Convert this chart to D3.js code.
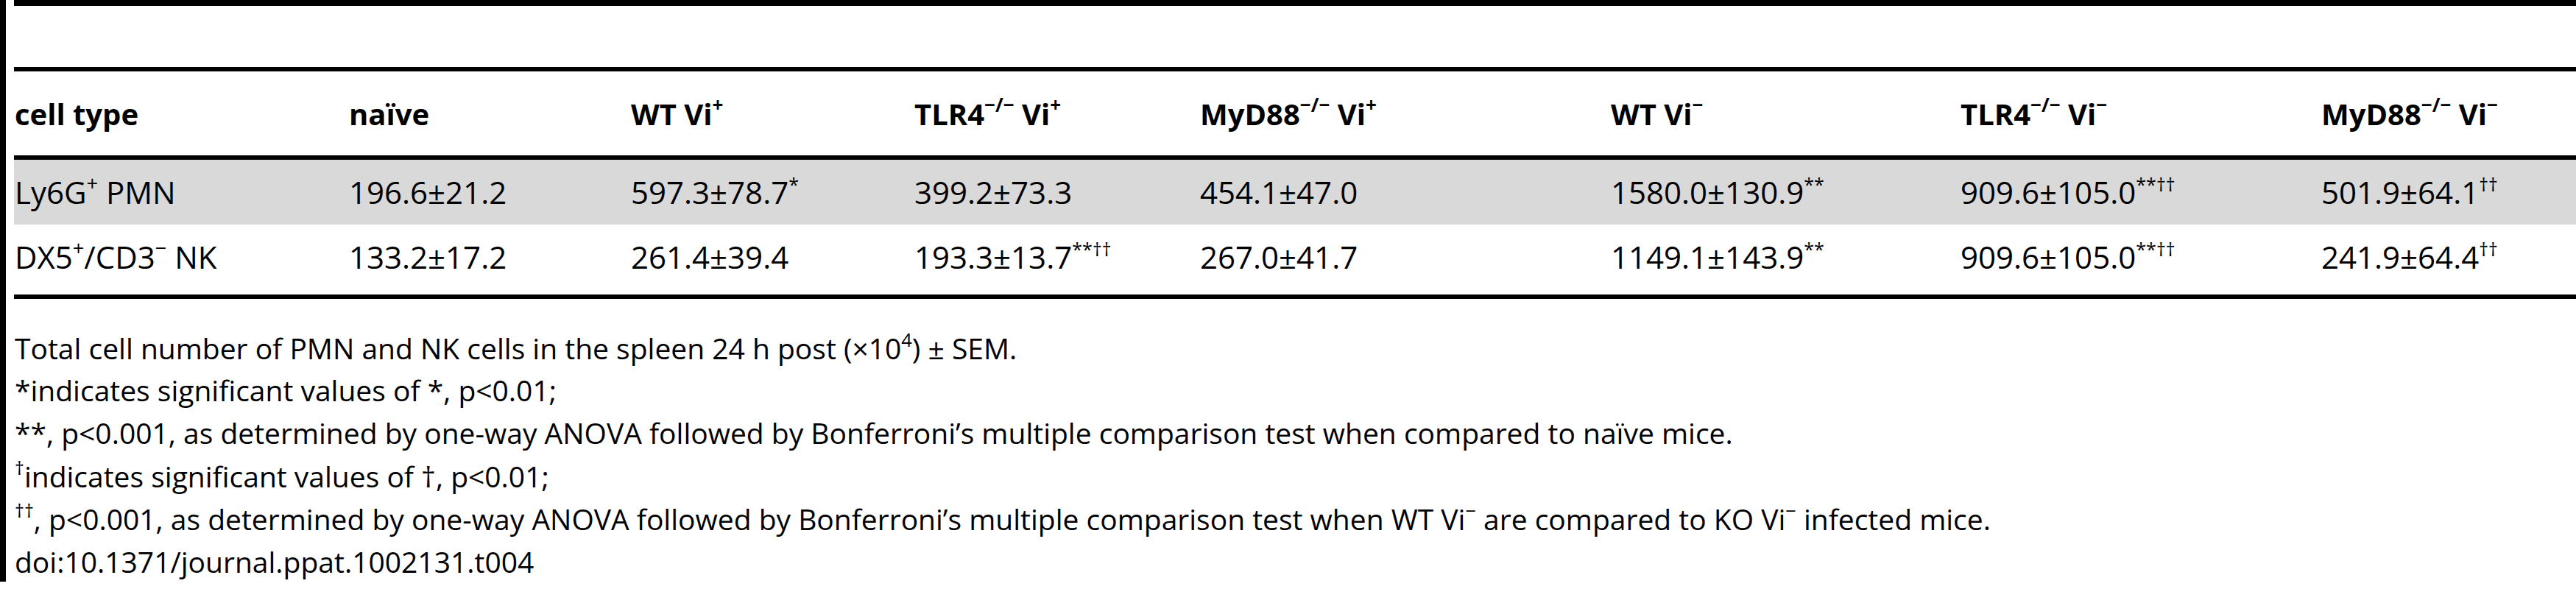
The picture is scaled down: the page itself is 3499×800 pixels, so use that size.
<!DOCTYPE html>
<html><head><meta charset="utf-8">
<script src="https://cdn.jsdelivr.net/npm/d3@7"></script>
<style>body{margin:0;background:#fff}svg{display:block}</style>
</head><body>
<script>
// ---- data ----
const headerParts = [
  [["cell type",""]],
  [["naïve",""]],
  [["WT Vi","+"]],
  [["TLR4","−/−"],[" Vi","+"]],
  [["MyD88","−/−"],[" Vi","+"]],
  [["WT Vi","−"]],
  [["TLR4","−/−"],[" Vi","−"]],
  [["MyD88","−/−"],[" Vi","−"]]
];
const cellTypes = [
  [["Ly6G","+"],[" PMN",""]],
  [["DX5","+"],["/CD3","−"],[" NK",""]]
];
const means = [
  ["196.6","597.3","399.2","454.1","1580.0","909.6","501.9"],
  ["133.2","261.4","193.3","267.0","1149.1","909.6","241.9"]
];
const sems = [
  ["21.2","78.7","73.3","47.0","130.9","105.0","64.1"],
  ["17.2","39.4","13.7","41.7","143.9","105.0","64.4"]
];
const marks = [
  ["","*","","","**","**††","††"],
  ["","","**††","","**","**††","††"]
];
const footnotes = [
  [["Total cell number of PMN and NK cells in the spleen 24 h post (×10",""],["4","sup"],[") ± SEM.",""]],
  [["*indicates significant values of *, p<0.01;",""]],
  [["**, p<0.001, as determined by one-way ANOVA followed by Bonferroni’s multiple comparison test when compared to naïve mice.",""]],
  [["†","sup"],["indicates significant values of †, p<0.01;",""]],
  [["††","sup"],[", p<0.001, as determined by one-way ANOVA followed by Bonferroni’s multiple comparison test when WT Vi",""],["−","sup"],[" are compared to KO Vi",""],["−","sup"],[" infected mice.",""]],
  [["doi:10.1371/journal.ppat.1002131.t004",""]]
];

// ---- layout ----
const W=3499,H=800;
const colX=[20,474,857,1242,1630,2188,2663,3153];
const x=d3.scaleOrdinal().domain(d3.range(8)).range(colX);
const svg=d3.select("body").append("svg").attr("width",W).attr("height",H)
  .style("font-family","'Open Sans',sans-serif");

svg.append("rect").attr("x",0).attr("y",0).attr("width",8).attr("height",790).attr("fill","#000");
svg.append("rect").attr("x",19).attr("y",217).attr("width",W-19).attr("height",88).attr("fill","#d9d9d9");
[[4,8],[94,6],[214,6],[403,6]].forEach(([y,t])=>svg.append("rect").attr("x",19).attr("y",y-t/2).attr("width",W-19).attr("height",t).attr("fill","#000"));

function addParts(t,parts){
  parts.forEach(([a,s])=>{
    if(s===undefined||s===""){ t.append("tspan").text(a); return; }
    if(s==="sup"){ t.append("tspan").attr("baseline-shift","super").attr("font-size","65%").text(a); return; }
    t.append("tspan").text(a);
    t.append("tspan").attr("baseline-shift","super").attr("font-size","65%").text(s);
  });
}
headerParts.forEach((p,i)=>{
  const t=svg.append("text").attr("x",x(i)).attr("y",170).attr("font-size",40).attr("font-weight","bold");
  addParts(t,p);
});
const rowY=[277,365];
cellTypes.forEach((p,r)=>{
  const t=svg.append("text").attr("x",x(0)).attr("y",rowY[r]).attr("font-size",42);
  addParts(t,p);
  means[r].forEach((m,c)=>{
    const tt=svg.append("text").attr("x",x(c+1)).attr("y",rowY[r]).attr("font-size",42);
    tt.append("tspan").text(m+"±"+sems[r][c]);
    if(marks[r][c]) tt.append("tspan").attr("baseline-shift","super").attr("font-size","60%").text(marks[r][c]);
  });
});
const fnY=[488,545,603,662,720,778];
footnotes.forEach((p,i)=>{
  const t=svg.append("text").attr("x",20).attr("y",fnY[i]).attr("font-size",39);
  p.forEach(([a,s])=>{
    const sp=t.append("tspan").text(a);
    if(s==="sup") sp.attr("baseline-shift","super").attr("font-size","65%");
  });
});
</script>
</body></html>
